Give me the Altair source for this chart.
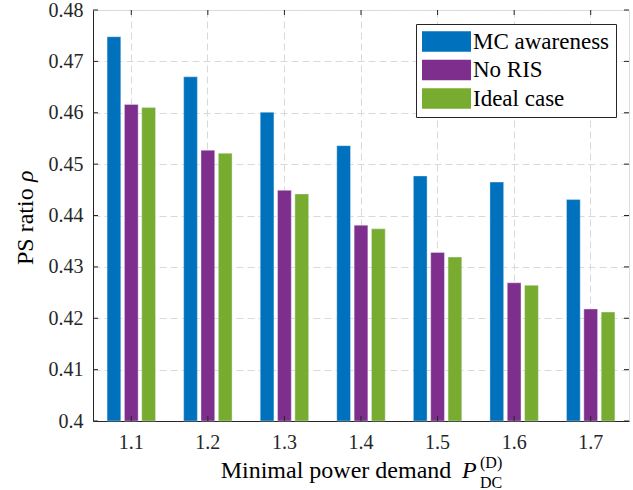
import altair as alt
import pandas as pd

categories = ["1.1", "1.2", "1.3", "1.4", "1.5", "1.6", "1.7"]
series_names = ["MC awareness", "No RIS", "Ideal case"]
mc_awareness = [0.4748, 0.4670, 0.4601, 0.4536, 0.4477, 0.4465, 0.4431]
no_ris = [0.4616, 0.4527, 0.4449, 0.4381, 0.4328, 0.4269, 0.4218]
ideal_case = [0.4610, 0.4521, 0.4442, 0.4374, 0.4319, 0.4264, 0.4212]
y_ticks = [0.40, 0.41, 0.42, 0.43, 0.44, 0.45, 0.46, 0.47, 0.48]
colors = ["#0072BD", "#7E2F8E", "#77AC30"]

W, H = 536, 411
FONT = "Times New Roman, Liberation Serif, serif"
AX = "#262626"

rows = []
for name, vals in zip(series_names, [mc_awareness, no_ris, ideal_case]):
    for c, v in zip(categories, vals):
        rows.append({"cat": c, "series": name, "value": v})
df = pd.DataFrame(rows)

xscale = alt.Scale(domain=categories, paddingInner=0.368, paddingOuter=0.184)
yscale = alt.Scale(domain=[0.4, 0.48], zero=False, nice=False)

# wide legend swatch (drawn 49 x 20.6 px with symbolSize 529 -> scale 11.5)
rect_path = "M-2.13,-0.896H2.13V0.896H-2.13Z"

bars = alt.Chart(df).mark_bar(stroke="#e8f0f8", strokeWidth=0.4).encode(
    x=alt.X("cat:N", scale=xscale, sort=categories,
            axis=alt.Axis(title=None, labelFont=FONT, labelFontSize=20, labelColor=AX,
                          labelAngle=0, ticks=False, labelPadding=11, domainColor=AX,
                          grid=True, gridColor="#d9d9d9", gridDash=[7, 4],
                          bandPosition=0.5)),
    xOffset=alt.XOffset("series:N", sort=series_names,
                        scale=alt.Scale(domain=series_names, paddingInner=0.21, paddingOuter=0)),
    y=alt.Y("value:Q", scale=yscale,
            axis=alt.Axis(title=None, values=y_ticks, format="~g", labelFont=FONT,
                          labelFontSize=20, labelColor=AX, ticks=False, labelPadding=10,
                          domainColor=AX, grid=True, gridColor="#d9d9d9", gridDash=[7, 4])),
    y2=alt.datum(0.4),
    color=alt.Color("series:N", sort=series_names,
                    scale=alt.Scale(domain=series_names, range=colors),
                    legend=alt.Legend(title=None, orient="none", legendX=323, legendY=14,
                                      symbolType=rect_path, symbolSize=529,
                                      symbolStrokeWidth=0, symbolOpacity=1, symbolOffset=13,
                                      labelFont=FONT, labelFontSize=23, labelColor="black",
                                      strokeColor=AX, fillColor="white", padding=6,
                                      rowPadding=4.5, labelOffset=15, labelLimit=0)),
)

ydf = pd.DataFrame({"v": y_ticks})
xdf = pd.DataFrame({"cat": categories})

left_ticks = alt.Chart(ydf).mark_rule(color=AX, strokeWidth=1).encode(
    y=alt.Y("v:Q", scale=yscale), x=alt.value(0), x2=alt.value(5))
right_ticks = alt.Chart(ydf).mark_rule(color=AX, strokeWidth=1).encode(
    y=alt.Y("v:Q", scale=yscale), x=alt.value(W), x2=alt.value(W - 5))
bottom_ticks = alt.Chart(xdf).mark_rule(color=AX, strokeWidth=1).encode(
    x=alt.X("cat:N", scale=xscale, sort=categories, bandPosition=0.5),
    y=alt.value(H), y2=alt.value(H - 5))
top_ticks = alt.Chart(xdf).mark_rule(color=AX, strokeWidth=1).encode(
    x=alt.X("cat:N", scale=xscale, sort=categories, bandPosition=0.5),
    y=alt.value(0), y2=alt.value(5))

one = pd.DataFrame({"t": [0]})
xt_main = alt.Chart(one).mark_text(text="Minimal power demand", font=FONT, fontSize=24,
                                   align="center", baseline="alphabetic", color="black").encode(
    x=alt.value(243), y=alt.value(468))
xt_p = alt.Chart(one).mark_text(text="P", font=FONT, fontSize=24, fontStyle="italic",
                                align="left", baseline="alphabetic", color="black").encode(
    x=alt.value(369), y=alt.value(468))
xt_sup = alt.Chart(one).mark_text(text="(D)", font=FONT, fontSize=16,
                                  align="left", baseline="alphabetic", color="black").encode(
    x=alt.value(387), y=alt.value(458))
xt_sub = alt.Chart(one).mark_text(text="DC", font=FONT, fontSize=16,
                                  align="left", baseline="alphabetic", color="black").encode(
    x=alt.value(387), y=alt.value(478))
yt_main = alt.Chart(one).mark_text(text="PS ratio", font=FONT, fontSize=24, angle=270,
                                   align="left", baseline="alphabetic", color="black").encode(
    x=alt.value(-60), y=alt.value(255))
yt_rho = alt.Chart(one).mark_text(text="ρ", font=FONT, fontSize=24, angle=270, fontStyle="italic",
                                  align="left", baseline="alphabetic", color="black").encode(
    x=alt.value(-60), y=alt.value(172))

chart = alt.layer(
    bars, left_ticks, right_ticks, bottom_ticks, top_ticks,
    xt_main, xt_p, xt_sup, xt_sub, yt_main, yt_rho,
).properties(
    width=W, height=H,
    autosize=alt.AutoSizeParams(type="none"),
    padding={"left": 93, "top": 10, "right": 4, "bottom": 69},
).configure_view(stroke=AX, strokeWidth=1).configure(background="white")

chart.save("out.html", embed_options={"renderer": "svg", "actions": False})
